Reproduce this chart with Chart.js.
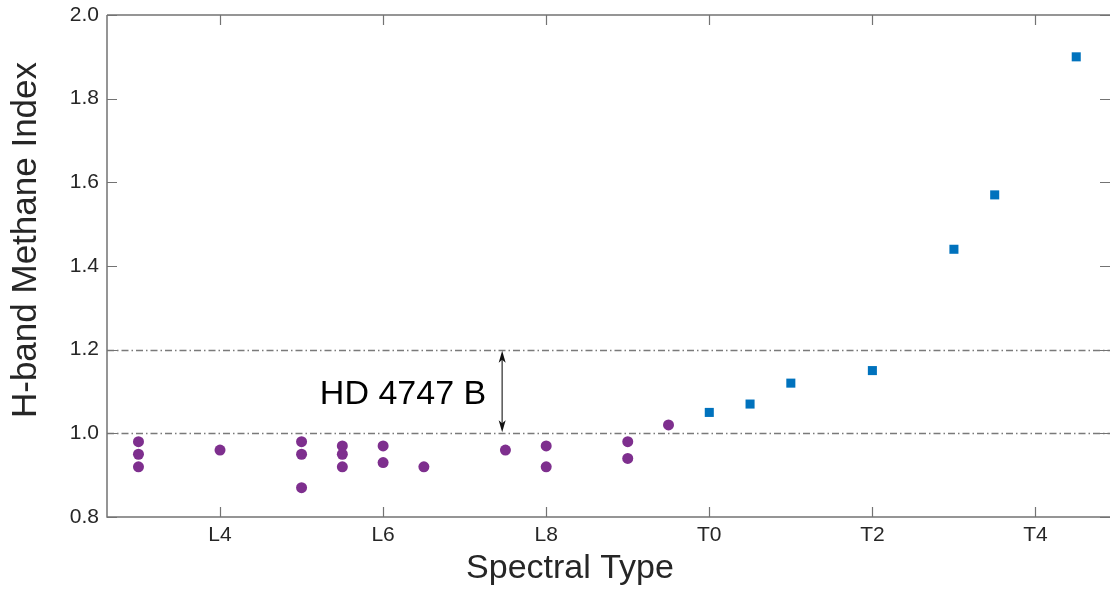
<!DOCTYPE html>
<html>
<head>
<meta charset="utf-8">
<script src="https://cdn.jsdelivr.net/npm/chart.js@4.4.0/dist/chart.umd.min.js"></script>
<style>
  html, body { margin: 0; padding: 0; background: #fff; }
  #wrap { width: 1110px; height: 589px; }
</style>
</head>
<body>
<div id="wrap"><canvas id="methaneChart" width="1110" height="589"></canvas></div>
<script>
// L dwarfs (numeric type: L0 = 10, T0 = 20)
const lTypes = [13, 13, 13, 14, 15, 15, 15, 15.5, 15.5, 15.5, 16, 16, 16.5, 17.5, 18, 18, 19, 19, 19.5];
const lIndex = [0.98, 0.95, 0.92, 0.96, 0.98, 0.95, 0.87, 0.97, 0.95, 0.92, 0.97, 0.93, 0.92, 0.96, 0.97, 0.92, 0.98, 0.94, 1.02];
// T dwarfs
const tTypes = [20, 20.5, 21, 22, 23, 23.5, 24.5];
const tIndex = [1.05, 1.07, 1.12, 1.15, 1.44, 1.57, 1.90];

const xTickValues = [14, 16, 18, 20, 22, 24];
const xTickLabels = ['L4', 'L6', 'L8', 'T0', 'T2', 'T4'];
const yTickValues = [0.8, 1.0, 1.2, 1.4, 1.6, 1.8, 2.0];

// HD 4747 B range
const bandLow = 1.0;
const bandHigh = 1.2;
const arrowType = 17.46;
const bandLabel = 'HD 4747 B';

const axisColor = '#737373';
const textColor = '#262626';
const fontFamily = '"Liberation Sans", Arial, Helvetica, sans-serif';

const toPoints = (xs, ys) => xs.map((x, i) => ({ x: x, y: ys[i] }));

// frame, inward ticks, dash-dot lines, arrow and titles
const decorations = {
  id: 'decorations',
  beforeDatasetsDraw(chart) {
    const ctx = chart.ctx;
    const area = chart.chartArea;
    const xs = chart.scales.x, ys = chart.scales.y;
    ctx.save();
    ctx.strokeStyle = '#7a7a7a';
    ctx.lineWidth = 1.4;
    ctx.setLineDash([7, 3, 1.5, 3]);
    [bandLow, bandHigh].forEach(v => {
      const py = Math.round(ys.getPixelForValue(v)) + 0.5;
      ctx.beginPath();
      ctx.moveTo(area.left, py);
      ctx.lineTo(area.right, py);
      ctx.stroke();
    });
    ctx.setLineDash([]);

    // double arrow
    const ax = xs.getPixelForValue(arrowType);
    const yTop = ys.getPixelForValue(bandHigh);
    const yBot = ys.getPixelForValue(bandLow);
    ctx.strokeStyle = '#555555';
    ctx.lineWidth = 1.5;
    ctx.beginPath();
    ctx.moveTo(ax, yTop + 6);
    ctx.lineTo(ax, yBot - 6);
    ctx.stroke();
    ctx.fillStyle = '#111111';
    const head = (tipY, dir) => {
      ctx.beginPath();
      ctx.moveTo(ax, tipY);
      ctx.lineTo(ax - 3.5, tipY + dir * 12);
      ctx.lineTo(ax, tipY + dir * 9);
      ctx.lineTo(ax + 3.5, tipY + dir * 12);
      ctx.closePath();
      ctx.fill();
    };
    head(yTop + 1, 1);
    head(yBot - 1, -1);

    // label
    ctx.fillStyle = '#000000';
    ctx.font = '34px ' + fontFamily;
    ctx.textAlign = 'right';
    ctx.textBaseline = 'alphabetic';
    ctx.fillText(bandLabel, ax - 16, (yTop + yBot) / 2 + 12);
    ctx.restore();
  },
  afterDraw(chart) {
    const ctx = chart.ctx;
    const area = chart.chartArea;
    const xs = chart.scales.x, ys = chart.scales.y;
    ctx.save();
    ctx.strokeStyle = axisColor;
    ctx.lineWidth = 1.5;
    ctx.beginPath();
    ctx.moveTo(area.left, area.top);
    ctx.lineTo(area.right, area.top);
    ctx.moveTo(area.left, area.top);
    ctx.lineTo(area.left, area.bottom);
    ctx.lineTo(area.right, area.bottom);
    ctx.stroke();

    ctx.lineWidth = 1.2;
    ctx.beginPath();
    yTickValues.forEach(v => {
      const py = Math.round(ys.getPixelForValue(v)) + 0.5;
      ctx.moveTo(area.left, py);
      ctx.lineTo(area.left + 10, py);
      ctx.moveTo(area.right, py);
      ctx.lineTo(area.right - 10, py);
    });
    xTickValues.forEach(v => {
      const px = Math.round(xs.getPixelForValue(v)) + 0.5;
      ctx.moveTo(px, area.bottom);
      ctx.lineTo(px, area.bottom - 10);
      ctx.moveTo(px, area.top);
      ctx.lineTo(px, area.top + 10);
    });
    ctx.stroke();

    // axis titles
    ctx.fillStyle = textColor;
    ctx.font = '34px ' + fontFamily;
    ctx.textAlign = 'center';
    ctx.textBaseline = 'alphabetic';
    ctx.fillText('Spectral Type', 570, 578);
    ctx.translate(36, 240);
    ctx.rotate(-Math.PI / 2);
    ctx.font = '35px ' + fontFamily;
    ctx.fillText('H-band Methane Index', 0, 0);
    ctx.restore();
  }
};

const ctx = document.getElementById('methaneChart').getContext('2d');

new Chart(ctx, {
  type: 'scatter',
  data: {
    datasets: [
      {
        label: 'L dwarfs',
        data: toPoints(lTypes, lIndex),
        pointStyle: 'circle',
        pointRadius: 5.5,
        pointBackgroundColor: '#7E2F8E',
        pointBorderWidth: 0
      },
      {
        label: 'T dwarfs',
        data: toPoints(tTypes, tIndex),
        pointStyle: 'rect',
        pointRadius: 6.4,
        pointBackgroundColor: '#0072BD',
        pointBorderWidth: 0
      }
    ]
  },
  options: {
    responsive: false,
    animation: false,
    devicePixelRatio: 1,
    layout: { autoPadding: false, padding: { top: 15, right: 0, left: 0, bottom: 0 } },
    plugins: {
      legend: { display: false },
      tooltip: { enabled: false }
    },
    scales: {
      x: {
        type: 'linear',
        min: 12.614,
        max: 24.914,
        grid: { display: false, drawTicks: false },
        border: { display: false },
        afterBuildTicks: s => { s.ticks = xTickValues.map(v => ({ value: v })); },
        afterFit: s => { s.height = 72; s.paddingLeft = 0; s.paddingRight = 0; },
        ticks: {
          autoSkip: false,
          maxRotation: 0,
          padding: 6,
          color: textColor,
          font: { size: 21, family: fontFamily },
          callback: v => xTickLabels[xTickValues.indexOf(v)]
        }
      },
      y: {
        min: 0.8,
        max: 2.0,
        grid: { display: false, drawTicks: false },
        border: { display: false },
        afterBuildTicks: s => { s.ticks = yTickValues.map(v => ({ value: v })); },
        afterFit: s => { s.width = 107; s.paddingTop = 0; s.paddingBottom = 0; },
        ticks: {
          padding: 8,
          color: textColor,
          font: { size: 21, family: fontFamily },
          callback: v => v.toFixed(1)
        }
      }
    }
  },
  plugins: [decorations]
});
</script>
</body>
</html>
